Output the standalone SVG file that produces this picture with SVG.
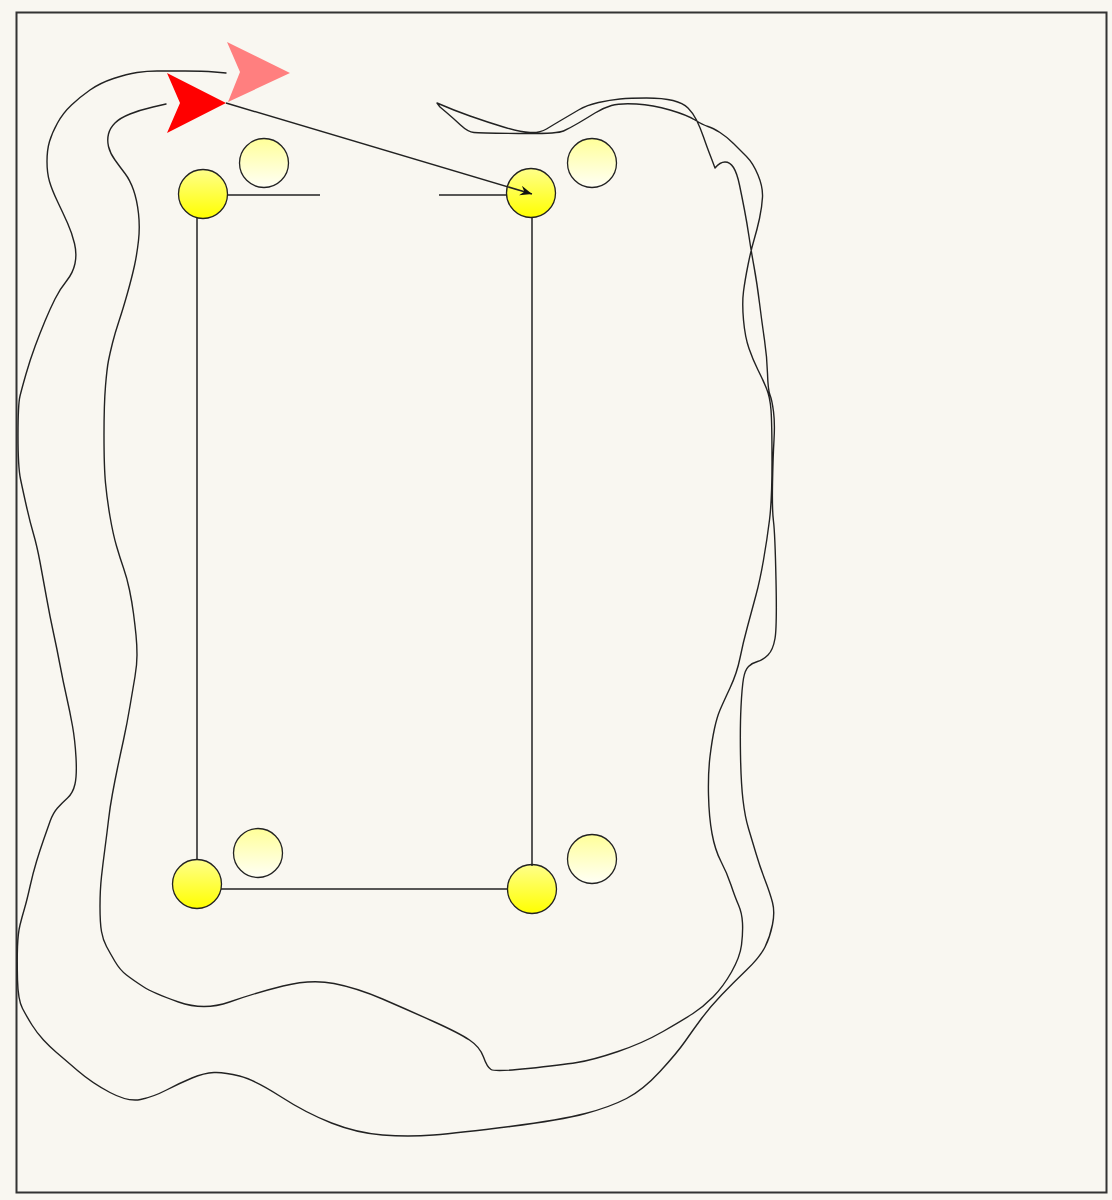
<svg xmlns="http://www.w3.org/2000/svg" width="1112" height="1200" viewBox="0 0 1112 1200">
<defs>
<linearGradient id="gNode" x1="0" y1="0" x2="0" y2="1"><stop offset="0" stop-color="#FFFF8A"/><stop offset="1" stop-color="#FFFF00"/></linearGradient>
<linearGradient id="gGhost" x1="0" y1="0" x2="0" y2="1"><stop offset="0" stop-color="#FFFF99"/><stop offset="1" stop-color="#FFFFF6"/></linearGradient>
<marker id="ah" markerUnits="userSpaceOnUse" markerWidth="14" markerHeight="12" refX="12" refY="5" orient="auto"><path d="M0,0 L12,5 L0,10 L4,5 z" fill="#111"/></marker>
</defs>
<style>
.node{fill:url(#gNode);stroke:#222;stroke-width:1.3}
.ghost{fill:url(#gGhost);stroke:#222;stroke-width:1.3}
.edge{stroke:#222;stroke-width:1.5;fill:none}
.trail{stroke:#222;stroke-width:1.4;fill:none;stroke-linejoin:round;stroke-linecap:round}
</style>
<rect x="0" y="0" width="1112" height="1200" fill="#F9F7F1"/>
<rect x="16.5" y="12.5" width="1090" height="1180" fill="none" stroke="#333" stroke-width="2"/>

<g id="trails">
<path class="trail" d="M226,73 L214.5,72 Q203,71 185,71 Q167,71 157,71 Q147,71 137,72.5 Q127,74 113.5,78.5 Q100,83 90,90 Q80,97 71.5,105 Q63,113 57.5,123 Q52,133 49.5,141.5 Q47,150 47,161.5 Q47,173 49.5,181.5 Q52,190 57.5,201.5 Q63,213 67.5,223 Q72,233 74.5,243.5 Q77,254 75,263.5 Q73,273 66.5,281 Q60,289 55,299 Q50,309 45,321 Q40,333 35,346.5 Q30,360 26,374 Q22,388 20,396 Q18,404 18,435.5 Q18,467 20.5,479 Q23,491 26.5,506.5 Q30,522 33.5,534 Q37,546 40,562 Q43,578 46.5,597.5 Q50,617 53.5,633 Q57,649 60,665 Q63,681 66.5,696.5 Q70,712 72.5,726 Q75,740 76,757.5 Q77,775 75,784 Q73,793 67.5,798 Q62,803 57.5,808 Q53,813 50,821.5 Q47,830 43.5,840 Q40,850 36.5,861.5 Q33,873 30,886.5 Q27,900 24.5,908.5 Q22,917 20,925 Q18,933 17.5,946.5 Q17,960 17.5,980 Q18,1000 22.5,1008.5 Q27,1017 32,1025 Q37,1033 43.5,1040 Q50,1047 56.5,1052.5 Q63,1058 77.5,1070.5 Q92,1083 110,1092.5 Q128,1102 140.5,1099.5 Q153,1097 166.5,1090 Q180,1083 192,1078 Q204,1073 214,1072.5 Q224,1072 239.5,1076 Q255,1080 280.5,1096.5 Q306,1113 331.5,1123 Q357,1133 382.5,1135 Q408,1137 433.5,1135 Q459,1133 510,1126.5 Q561,1120 585.5,1113.5 Q610,1107 626.5,1098.5 Q643,1090 660,1071.5 Q677,1053 685,1041.5 Q693,1030 701.5,1018.5 Q710,1007 721.5,995 Q733,983 746.5,970 Q760,957 765,947 Q770,937 772.5,924.5 Q775,912 772.5,902.5 Q770,893 765,880 Q760,867 756,853.5 Q752,840 748.5,828.5 Q745,817 743,800 Q741,783 740.5,755 Q740,727 741,707 Q742,687 743.5,678.5 Q745,670 748.5,666.5 Q752,663 757.5,661.5 Q763,660 768,655 Q773,650 775,638.5 Q777,627 776,580 Q775,533 773.5,521.5 Q772,510 772.5,483.5 Q773,457 774,440 Q775,423 773.5,411.5 Q772,400 770,395 Q768,390 767.5,373.5 Q767,357 764.5,340 Q762,323 759.5,303 Q757,283 754,266.5 Q751,250 749,236.5 Q747,223 744.5,210 Q742,197 739.5,185 Q737,173 733.5,167.5 Q730,162 725,162 Q720,162 715,168 L712,160 L709.5,153.5 Q707,147 703.5,137 Q700,127 696.5,120 Q693,113 688,108 Q683,103 673,100.5 Q663,98 646.5,98 Q630,98 620,99 Q610,100 598.5,102.5 Q587,105 578.5,110 Q570,115 561.5,120 Q553,125 546.5,129 Q540,133 530,132.5 Q520,132 503.5,127 Q487,122 470,116 Q453,110 437,103 L440,107 L446.5,112.5 Q453,118 460.5,125 Q468,132 474,132.5 Q480,133 518.5,133.5 Q557,134 563.5,131 Q570,128 578.5,123 Q587,118 595,113 Q603,108 611.5,105.5 Q620,103 636.5,104 Q653,105 670,110 Q687,115 695,120 Q703,125 708,126.5 Q713,128 720,132.5 Q727,137 733.5,143.5 Q740,150 746.5,156.5 Q753,163 758,175 Q763,187 762.5,197 Q762,207 759.5,218.5 Q757,230 754,240 Q751,250 748,265 Q745,280 743.5,291.5 Q742,303 743.5,320 Q745,337 749,348.5 Q753,360 758,370 Q763,380 766.5,388.5 Q770,397 771,410 Q772,423 772,461.5 Q772,500 769.5,520 Q767,540 763.5,560 Q760,580 756,595 Q752,610 747.5,626.5 Q743,643 740,658 Q737,673 730,688 Q723,703 720,710 Q717,717 714.5,728.5 Q712,740 710,756.5 Q708,773 708.5,795 Q709,817 712,833.5 Q715,850 721,861.5 Q727,873 731,885 Q735,897 738.5,905 Q742,913 742.5,923 Q743,933 741.5,945 Q740,957 731.5,972 Q723,987 713,997 Q703,1007 693,1013.5 Q683,1020 663,1031.5 Q643,1043 618,1051.5 Q593,1060 577,1062.5 Q561,1065 528,1068.5 Q495,1072 491,1069.5 Q487,1067 483.5,1057 Q480,1047 469.5,1040 Q459,1033 433.5,1021.5 Q408,1010 382.5,999 Q357,988 334,983.5 Q311,979 283,986 Q255,993 229.5,1002 Q204,1011 178.5,1002 Q153,993 143,986.5 Q133,980 126.5,975 Q120,970 115,961.5 Q110,953 106.5,946.5 Q103,940 101.5,931.5 Q100,923 100,906.5 Q100,890 101.5,876.5 Q103,863 105,848 Q107,833 108.5,820 Q110,807 112.5,793.5 Q115,780 117.5,768 Q120,756 123.5,740 Q127,724 130,706 Q133,688 135,676.5 Q137,665 137,655 Q137,645 136,635 Q135,625 133.5,613.5 Q132,602 129.5,590 Q127,578 123.5,568 Q120,558 116.5,546 Q113,534 110,516.5 Q107,499 105.5,483 Q104,467 104,435.5 Q104,404 105.5,386 Q107,368 108.5,360.5 Q110,353 112.5,343 Q115,333 119,321 Q123,309 127.5,293 Q132,277 134.5,265.5 Q137,254 138.5,240.5 Q140,227 138.5,213.5 Q137,200 133.5,190 Q130,180 125,173.5 Q120,167 115,160 Q110,153 108.5,146.5 Q107,140 108.5,134 Q110,128 115,123 Q120,118 130,114 Q140,110 153,107 L166,104"/>
</g>

<g id="ghost-tl"><circle class="ghost" cx="264" cy="163" r="24.5"/></g>
<g id="ghost-tr"><circle class="ghost" cx="592" cy="163" r="24.5"/></g>
<g id="ghost-bl"><circle class="ghost" cx="258" cy="853" r="24.5"/></g>
<g id="ghost-br"><circle class="ghost" cx="592" cy="859" r="24.5"/></g>

<g id="node-tl"><circle class="node" cx="203" cy="194" r="24.5"/></g>
<g id="node-tr"><circle class="node" cx="531" cy="193" r="24.5"/></g>
<g id="node-bl"><circle class="node" cx="197" cy="884" r="24.5"/></g>
<g id="node-br"><circle class="node" cx="532" cy="889" r="24.5"/></g>

<g id="connectors">
<line class="edge" x1="227" y1="195" x2="320" y2="195"/>
<line class="edge" x1="439" y1="195" x2="507" y2="195"/>
<line class="edge" x1="197" y1="218" x2="197" y2="860"/>
<line class="edge" x1="532" y1="217" x2="532" y2="866"/>
<line class="edge" x1="221" y1="889" x2="508" y2="889"/>
<line class="edge" x1="226" y1="103" x2="532" y2="194" marker-end="url(#ah)"/>
</g>

<g id="arrow-pink"><polygon points="227,42 290,73 228,102 240,72" fill="#FF7F7F"/></g>
<g id="arrow-red"><polygon points="167,73 226,103 167,133 180,103" fill="#FF0000"/></g>
</svg>
